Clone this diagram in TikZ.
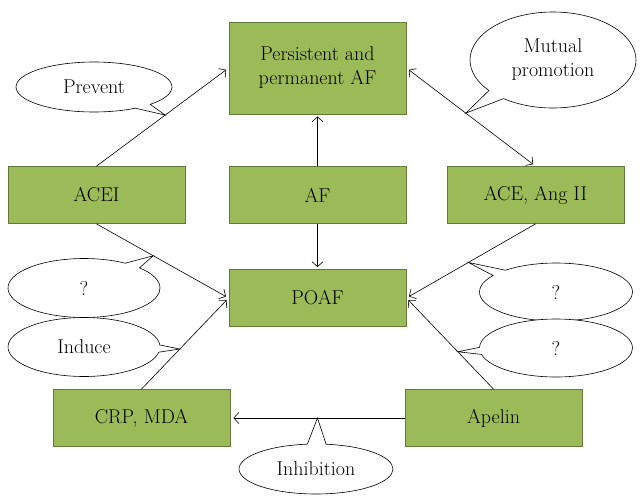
\documentclass[tikz,border=0pt]{standalone}
\usetikzlibrary{shapes.callouts,arrows.meta,calc}
\definecolor{boxfill}{RGB}{155,187,89}
\definecolor{boxline}{RGB}{100,122,58}
\begin{document}
\begin{tikzpicture}[x=1pt,y=-1pt,
  box/.style={draw=boxline,fill=boxfill,line width=0.8pt,minimum width=177pt,minimum height=57pt,inner sep=0pt,align=center,font=\fontsize{20}{24}\selectfont},
  bubble/.style={ellipse callout,draw,line width=0.6pt,fill=white,inner sep=0pt,align=center,font=\fontsize{20}{24}\selectfont,callout pointer arc=14},
  conn/.style={line width=0.6pt,-{Straight Barb[length=5pt,width=11pt]}},
  conn2/.style={line width=0.6pt,{Straight Barb[length=5pt,width=11pt]}-{Straight Barb[length=5pt,width=11pt]}}
]
\useasboundingbox (0,0) rectangle (640,499);
\node[box,minimum height=92pt] (top) at (317.5,68) {Persistent and\\permanent AF};
\node[box] (acei) at (96.5,195) {ACEI};
\node[box] (af) at (317.5,195) {AF};
\node[box] (ace) at (535.5,195) {ACE, Ang II};
\node[box] (poaf) at (317.5,298) {POAF};
\node[box] (crp) at (141.5,418) {CRP, MDA};
\node[box] (apelin) at (493.5,418) {Apelin};

\draw[conn,shorten >=3pt] (acei.north) -- (top.west);
\draw[conn,shorten >=3pt] (acei.south) -- (poaf.west);
\draw[conn,shorten >=2pt] (af.north) -- (top.south);
\draw[conn,shorten >=2pt] (af.south) -- (poaf.north);
\draw[conn2,shorten >=3pt,shorten <=3pt] (top.east) -- (ace.north);
\draw[conn,shorten >=3pt] (ace.south) -- (poaf.east);
\draw[conn,shorten >=3pt] (apelin.north) -- (poaf.east);
\draw[conn,shorten >=3pt] (crp.north) -- (poaf.west);
\draw[conn,shorten >=3pt] (apelin.west) -- (crp.east);

\coordinate (p1) at ($(acei.north)!0.52!(top.west)$);
\coordinate (p2) at ($(top.east)!0.46!(ace.north)$);
\coordinate (p3) at ($(acei.south)!0.43!(poaf.west)$);
\coordinate (p4) at ($(crp.north)!0.44!(poaf.west)$);
\coordinate (p5) at ($(ace.south)!0.52!(poaf.east)$);
\coordinate (p6) at ($(apelin.north)!0.41!(poaf.east)$);
\coordinate (p7) at ($(apelin.west)!0.5!(crp.east)$);

\node[bubble,minimum width=156pt,minimum height=50pt,callout absolute pointer=(p1)] (prevent) at (94,87) {Prevent};
\node[bubble,minimum width=166pt,minimum height=96pt,callout absolute pointer=(p2)] (mutual) at (553,60) {Mutual\\promotion};
\node[bubble,minimum width=152pt,minimum height=59pt,callout absolute pointer=(p3)] (q1) at (84,288) {?};
\node[bubble,minimum width=152pt,minimum height=59pt,callout absolute pointer=(p4)] (induce) at (84,347) {Induce};
\node[bubble,minimum width=153pt,minimum height=58pt,callout absolute pointer=(p5)] (q2) at (556,292) {?};
\node[bubble,minimum width=153pt,minimum height=58pt,callout absolute pointer=(p6)] (q3) at (556,348) {?};
\node[bubble,minimum width=154pt,minimum height=50pt,callout absolute pointer=(p7)] (inhib) at (316,469) {Inhibition};
\end{tikzpicture}
\end{document}
